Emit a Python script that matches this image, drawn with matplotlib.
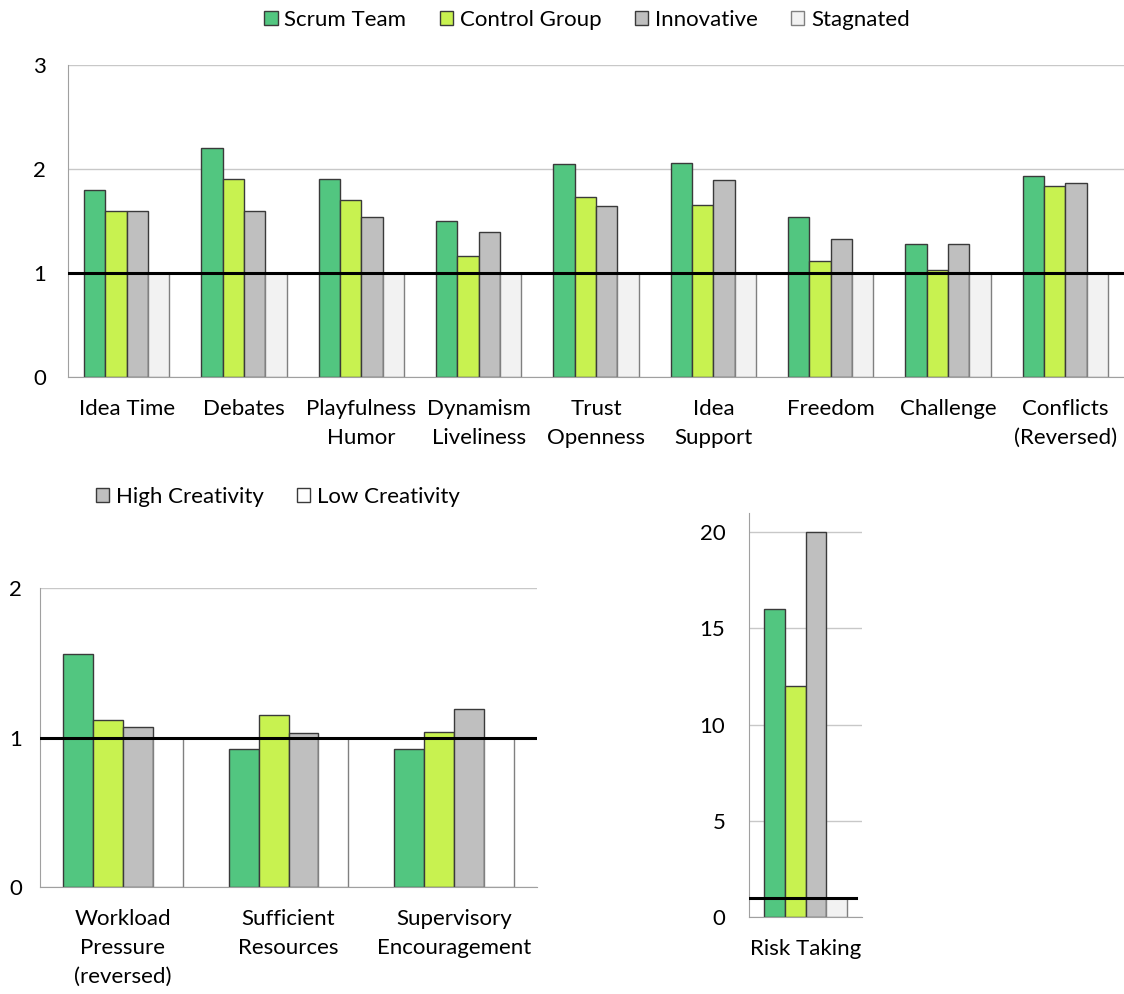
import matplotlib.pyplot as plt
import numpy as np
from matplotlib.patches import Patch

plt.rcParams['font.family'] = ['Lato', 'DejaVu Sans']
plt.rcParams['font.size'] = 16

GREEN = "#52C680"
LIME = "#C8F250"
GRAY = "#BFBFBF"
PALE = "#F2F2F2"
WHITE = "#FFFFFF"

# ---- climate dimensions (top panel) ----
dimensions = ["Idea Time", "Debates", "Playfulness\nHumor", "Dynamism\nLiveliness",
              "Trust\nOpenness", "Idea\nSupport", "Freedom", "Challenge",
              "Conflicts\n(Reversed)"]
scrum = [1.80, 2.20, 1.90, 1.50, 2.05, 2.06, 1.54, 1.28, 1.93]
control = [1.60, 1.90, 1.70, 1.16, 1.73, 1.65, 1.12, 1.03, 1.84]
innovative = [1.60, 1.60, 1.54, 1.39, 1.64, 1.89, 1.33, 1.28, 1.87]
stagnated = [1, 1, 1, 1, 1, 1, 1, 1, 1]

# ---- KEYS dimensions (bottom left) ----
keys_dims = ["Workload\nPressure\n(reversed)", "Sufficient\nResources", "Supervisory\nEncouragement"]
keys_scrum = [1.56, 0.92, 0.92]
keys_control = [1.12, 1.15, 1.04]
keys_high = [1.07, 1.03, 1.19]
keys_low = [1, 1, 1]

# ---- risk taking (bottom right) ----
risk_label = ["Risk Taking"]
risk_scrum = [16]
risk_control = [12]
risk_innovative = [20]
risk_stagnated = [1]

fig = plt.figure(figsize=(11.24, 9.94), dpi=100)


def grouped(ax, labels, series, colors, edges, width=0.182, line_to=1.0):
    x = np.arange(len(labels))
    n = len(series)
    for i, (vals, c, e) in enumerate(zip(series, colors, edges)):
        ax.bar(x + (i - (n - 1) / 2) * width, vals, width, color=c,
               edgecolor=e, linewidth=1, zorder=2)
    ax.set_xticks(x)
    ax.set_xticklabels(labels, linespacing=1.55, va="top")
    ax.set_xlim(-0.5, len(labels) - 0.5)
    ax.axhline(1, xmin=0, xmax=line_to, color="black", lw=2.2, zorder=3)
    ax.tick_params(axis="x", length=0, pad=16)
    ax.tick_params(axis="y", length=0)
    for s in ["top", "right"]:
        ax.spines[s].set_visible(False)
    ax.spines["left"].set_color("#A0A0A0")
    ax.spines["bottom"].set_color("#A0A0A0")
    ax.grid(axis="y", color="#C8C8C8", lw=1, zorder=0)
    ax.set_axisbelow(True)


edges = ["#3A3A3A", "#3A3A3A", "#3A3A3A", "#808080"]

ax1 = fig.add_axes([68 / 1124, 1 - 377 / 994, 1 - 68 / 1124, (377 - 65) / 994])
grouped(ax1, dimensions, [scrum, control, innovative, stagnated],
        [GREEN, LIME, GRAY, PALE], edges)
ax1.set_ylim(0, 3)
ax1.set_yticks([0, 1, 2, 3])
ax1.tick_params(axis="y", pad=16)

ax2 = fig.add_axes([40 / 1124, 1 - 887 / 994, (537 - 40) / 1124, (887 - 588) / 994])
grouped(ax2, keys_dims, [keys_scrum, keys_control, keys_high, keys_low],
        [GREEN, LIME, GRAY, WHITE], edges, width=0.181)
ax2.set_ylim(0, 2)
ax2.set_yticks([0, 1, 2])
ax2.tick_params(axis="y", pad=13)

ax3 = fig.add_axes([749 / 1124, 1 - 917 / 994, (862 - 749) / 1124, (917 - 513) / 994])
grouped(ax3, risk_label, [risk_scrum, risk_control, risk_innovative, risk_stagnated],
        [GREEN, LIME, GRAY, PALE], edges, width=0.183, line_to=0.95)
ax3.set_ylim(0, 21)
ax3.set_yticks([0, 5, 10, 15, 20])
ax3.tick_params(axis="y", pad=17)

top_handles = [Patch(facecolor=c, edgecolor=e, label=l) for c, e, l in
               zip([GREEN, LIME, GRAY, PALE], edges,
                   ["Scrum Team", "Control Group", "Innovative", "Stagnated"])]
fig.legend(handles=top_handles, loc="center", bbox_to_anchor=(587 / 1124, 1 - 20 / 994),
           ncol=4, frameon=False, fontsize=16, handlelength=0.6, handleheight=0.6,
           handletextpad=0.3, columnspacing=1.5)

bottom_handles = [Patch(facecolor=GRAY, edgecolor="#3A3A3A", label="High Creativity"),
                  Patch(facecolor=WHITE, edgecolor="#3A3A3A", label="Low Creativity")]
fig.legend(handles=bottom_handles, loc="center", bbox_to_anchor=(278 / 1124, 1 - 497 / 994),
           ncol=2, frameon=False, fontsize=16, handlelength=0.6, handleheight=0.6,
           handletextpad=0.3, columnspacing=1.5)

fig.savefig("out.png", dpi=100, facecolor="white")
